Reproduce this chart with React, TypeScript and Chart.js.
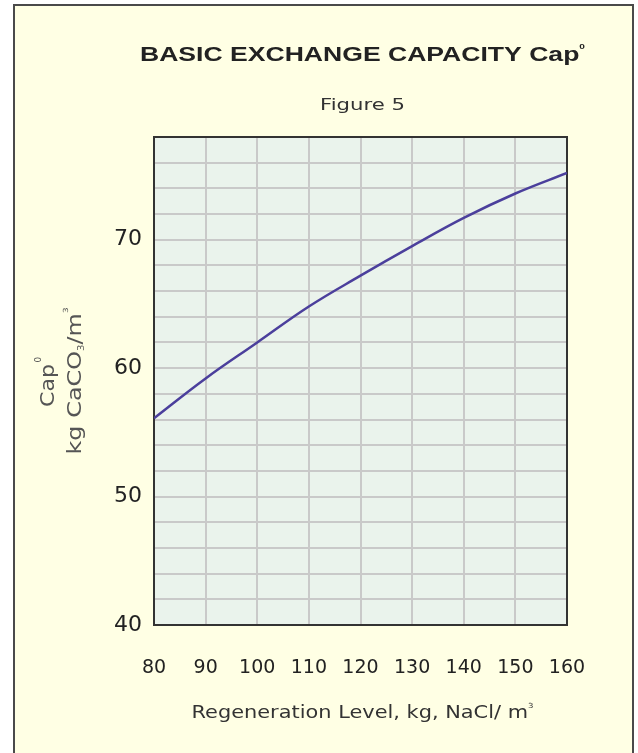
import React, { useEffect, useRef } from "react";
import { Chart, registerables } from "chart.js";

Chart.register(...registerables);

const regenerationLevels = [80, 90, 100, 110, 120, 130, 140, 150, 160];
const capacityValues = [56.1, 59.2, 62.0, 64.8, 67.2, 69.5, 71.7, 73.6, 75.2];
const yLabelTicks = [40, 50, 60, 70];

const titleText = "BASIC EXCHANGE CAPACITY Cap";
const subtitleText = "Figure 5";
const xTitleText = "Regeneration Level, kg, NaCl/ m";
const yTitleLine1 = "Cap";
const yTitleLine2a = "kg CaCO";
const yTitleLine2b = "/m";

type Seg = { t: string; font: string; dy: number };

function drawRich(
  ctx: CanvasRenderingContext2D,
  segs: Seg[],
  cx: number,
  cy: number,
  targetW: number,
  rot: number,
  color: string
) {
  ctx.save();
  ctx.translate(cx, cy);
  ctx.rotate(rot);
  let total = 0;
  const widths: number[] = [];
  for (const s of segs) {
    ctx.font = s.font;
    const w = ctx.measureText(s.t).width;
    widths.push(w);
    total += w;
  }
  const sx = targetW > 0 ? targetW / total : 1;
  ctx.scale(sx, 1);
  ctx.fillStyle = color;
  ctx.textBaseline = "alphabetic";
  ctx.textAlign = "left";
  let x = -total / 2;
  segs.forEach((s, i) => {
    ctx.font = s.font;
    ctx.fillText(s.t, x, s.dy);
    x += widths[i];
  });
  ctx.restore();
}

const decorPlugin = {
  id: "decor",
  beforeDraw(chart: any) {
    const { ctx, chartArea } = chart;
    ctx.save();
    ctx.fillStyle = "#EAF3EC";
    ctx.fillRect(chartArea.left, chartArea.top, chartArea.right - chartArea.left, chartArea.bottom - chartArea.top);
    ctx.restore();
  },
  beforeDatasetsDraw(chart: any) {
    const { ctx, chartArea } = chart;
    ctx.save();
    ctx.strokeStyle = "#333333";
    ctx.lineWidth = 2;
    ctx.strokeRect(chartArea.left, chartArea.top, chartArea.right - chartArea.left, chartArea.bottom - chartArea.top);
    ctx.restore();
  },
  afterDraw(chart: any) {
    const { ctx, chartArea } = chart;
    const cx = (chartArea.left + chartArea.right) / 2 + 2;
    drawRich(
      ctx,
      [
        { t: titleText, font: "bold 21px 'Liberation Sans', Arial, sans-serif", dy: 0 },
        { t: "0", font: "bold 8px 'Liberation Sans', Arial, sans-serif", dy: -12 },
      ],
      cx,
      61,
      445,
      0,
      "#222222"
    );
    drawRich(
      ctx,
      [{ t: subtitleText, font: "15px 'DejaVu Sans', sans-serif", dy: 0 }],
      cx,
      110,
      85,
      0,
      "#333333"
    );
    drawRich(
      ctx,
      [
        { t: xTitleText, font: "17px 'DejaVu Sans', sans-serif", dy: 0 },
        { t: "3", font: "7px 'DejaVu Sans', sans-serif", dy: -10 },
      ],
      cx,
      718,
      342,
      0,
      "#333333"
    );
    drawRich(
      ctx,
      [
        { t: yTitleLine1, font: "20px 'DejaVu Sans', sans-serif", dy: 0 },
        { t: " ", font: "4px 'DejaVu Sans', sans-serif", dy: 0 },
        { t: "0", font: "8px 'DejaVu Sans', sans-serif", dy: -13 },
      ],
      54,
      382,
      50,
      -Math.PI / 2,
      "#555555"
    );
    drawRich(
      ctx,
      [
        { t: yTitleLine2a, font: "19px 'DejaVu Sans', sans-serif", dy: 0 },
        { t: "3", font: "8px 'DejaVu Sans', sans-serif", dy: 3 },
        { t: yTitleLine2b, font: "19px 'DejaVu Sans', sans-serif", dy: 0 },
        { t: "3", font: "7px 'DejaVu Sans', sans-serif", dy: -13 },
      ],
      81,
      381,
      147,
      -Math.PI / 2,
      "#555555"
    );
  },
};

export default function App() {
  const canvasRef = useRef<HTMLCanvasElement | null>(null);

  useEffect(() => {
    const canvas = canvasRef.current;
    if (!canvas) return;
    const chart = new Chart(canvas, {
      type: "line",
      data: {
        datasets: [
          {
            data: regenerationLevels.map((x, i) => ({ x, y: capacityValues[i] })),
            borderColor: "#4B3F9C",
            borderWidth: 2.5,
            pointRadius: 0,
            tension: 0.4,
            fill: false,
          },
        ],
      },
      options: {
        responsive: false,
        animation: false,
        devicePixelRatio: 1,
        layout: { padding: { top: 137, right: 71, bottom: 0, left: 0 } },
        plugins: {
          legend: { display: false },
          tooltip: { enabled: false },
          title: { display: false },
        },
        scales: {
          x: {
            type: "linear",
            min: 80,
            max: 160,
            afterFit: (s: any) => {
              s.height = 128;
            },
            grid: { color: "#C9C9C9", lineWidth: 2, drawTicks: false },
            border: { display: false },
            ticks: {
              stepSize: 10,
              padding: 32,
              color: "#222222",
              font: { family: "'DejaVu Sans', sans-serif", size: 19 },
            },
          },
          y: {
            min: 40,
            max: 78,
            afterFit: (s: any) => {
              s.width = 154;
            },
            grid: { color: "#C9C9C9", lineWidth: 2, drawTicks: false },
            border: { display: false },
            ticks: {
              stepSize: 2,
              padding: 12,
              autoSkip: false,
              color: "#222222",
              font: { family: "'DejaVu Sans', sans-serif", size: 22 },
              callback: (v: any) => (yLabelTicks.includes(Number(v)) ? String(v) : ""),
            },
          },
        },
      },
      plugins: [decorPlugin],
    } as any);
    return () => chart.destroy();
  }, []);

  return (
    <div style={{ position: "absolute", left: 0, top: 0, width: 638, height: 753, background: "#ffffff", overflow: "hidden" }}>
      <div
        style={{
          position: "absolute",
          left: 13,
          top: 4,
          width: 617,
          height: 800,
          border: "2px solid #4A4A4A",
          borderBottom: "none",
          background: "#FFFFE4",
        }}
      />
      <canvas ref={canvasRef} width={638} height={753} style={{ position: "absolute", left: 0, top: 0 }} />
    </div>
  );
}
